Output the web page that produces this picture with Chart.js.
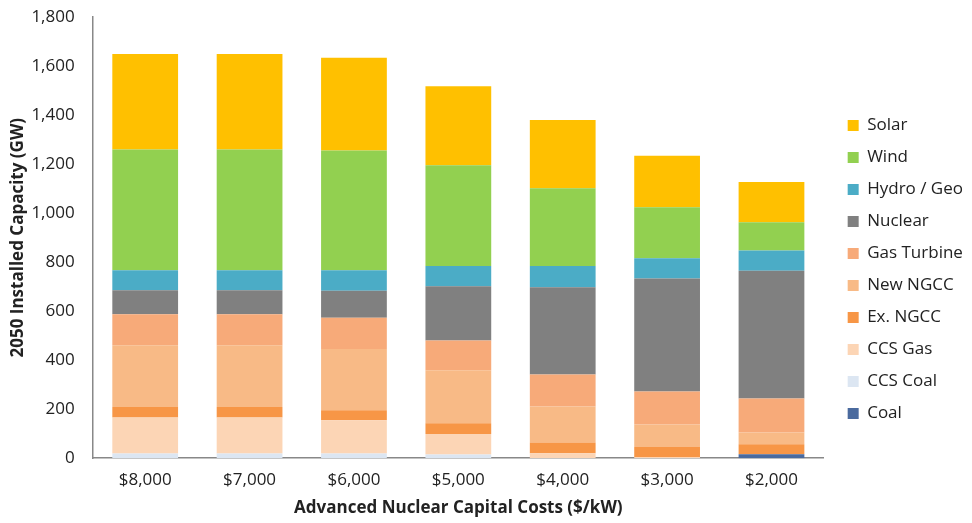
<!DOCTYPE html>
<html>
<head>
<meta charset="utf-8">
<script src="https://cdn.jsdelivr.net/npm/chart.js@4.4.1/dist/chart.umd.min.js"></script>
<style>
  html, body { margin: 0; padding: 0; background: #fff; }
  #wrap { width: 972px; height: 523px; }
</style>
</head>
<body>
<div id="wrap"><canvas id="chart" width="972" height="523"></canvas></div>
<script>
// GW installed in 2050, per advanced nuclear capital cost case
const CATEGORIES = ['$8,000', '$7,000', '$6,000', '$5,000', '$4,000', '$3,000', '$2,000'];
const COAL        = [0, 0, 0, 0, 0, 0, 16];
const CCS_COAL    = [19, 19, 19, 15, 0, 0, 0];
const CCS_GAS     = [147, 147, 136, 84, 20, 5, 0];
const EX_NGCC     = [43, 43, 41, 44, 44, 41, 41];
const NEW_NGCC    = [252, 252, 250, 216, 147, 92, 48];
const GAS_TURBINE = [127, 127, 127, 121, 131, 134, 139];
const NUCLEAR     = [98, 98, 110, 222, 356, 461, 521];
const HYDRO_GEO   = [81, 81, 84, 82, 86, 83, 83];
const WIND        = [493, 493, 489, 412, 318, 208, 115];
const SOLAR       = [390, 390, 379, 322, 278, 211, 164];

const FONT = "'Open Sans', sans-serif";
const TEXT = '#222222';

function series(label, data, color) {
    return {
        label: label,
        data: data,
        backgroundColor: color,
        borderWidth: 0,
        barPercentage: 0.63,
        categoryPercentage: 1.0
    };
}

// nudges the legend column to where the original sits
const legendShift = {
    id: 'legendShift',
    afterLayout(chart) {
        const lg = chart.legend;
        if (!lg) return;
        const dx = 9, dy = 8;
        lg.left += dx; lg.right += dx;
        lg.top += dy; lg.bottom += dy;
    }
};

new Chart(document.getElementById('chart'), {
    type: 'bar',
    data: {
        labels: CATEGORIES,
        datasets: [
            series('Coal', COAL, '#4A6A9E'),
            series('CCS Coal', CCS_COAL, '#DCE6F2'),
            series('CCS Gas', CCS_GAS, '#FCD5B5'),
            series('Ex. NGCC', EX_NGCC, '#F79646'),
            series('New NGCC', NEW_NGCC, '#F8BA86'),
            series('Gas Turbine', GAS_TURBINE, '#F7AA79'),
            series('Nuclear', NUCLEAR, '#808080'),
            series('Hydro / Geo', HYDRO_GEO, '#4BACC6'),
            series('Wind', WIND, '#92D050'),
            series('Solar', SOLAR, '#FFC000')
        ]
    },
    options: {
        responsive: false,
        animation: false,
        layout: { padding: { left: 4, right: 8, top: 0, bottom: 0 } },
        plugins: {
            tooltip: { enabled: false },
            legend: {
                position: 'right',
                reverse: true,
                labels: {
                    boxWidth: 11,
                    boxHeight: 11,
                    padding: 15,
                    color: TEXT,
                    font: { family: FONT, size: 17 }
                }
            }
        },
        scales: {
            x: {
                stacked: true,
                grid: { display: false, drawTicks: false },
                border: { display: true, color: '#888888', width: 1.5 },
                ticks: { color: TEXT, padding: 12, font: { family: FONT, size: 17 } },
                title: {
                    display: true,
                    text: 'Advanced Nuclear Capital Costs ($/kW)',
                    color: TEXT,
                    padding: { top: -5, bottom: 5 },
                    font: { family: FONT, size: 17, weight: 'bold' }
                }
            },
            y: {
                stacked: true,
                min: 0,
                max: 1800,
                grid: { display: false, drawTicks: false },
                border: { display: true, color: '#888888', width: 1.5 },
                ticks: {
                    stepSize: 200,
                    color: TEXT,
                    padding: 7,
                    font: { family: FONT, size: 17 },
                    // trailing gap keeps the numbers clear of the axis line
                    callback: (v) => v.toLocaleString('en-US') + '\u2002\u2009'
                },
                title: {
                    display: true,
                    text: '2050 Installed Capacity (GW)',
                    color: TEXT,
                    padding: { top: 4, bottom: -4 },
                    font: { family: FONT, size: 17, weight: 'bold' }
                }
            }
        }
    },
    plugins: [legendShift]
});
</script>
</body>
</html>
